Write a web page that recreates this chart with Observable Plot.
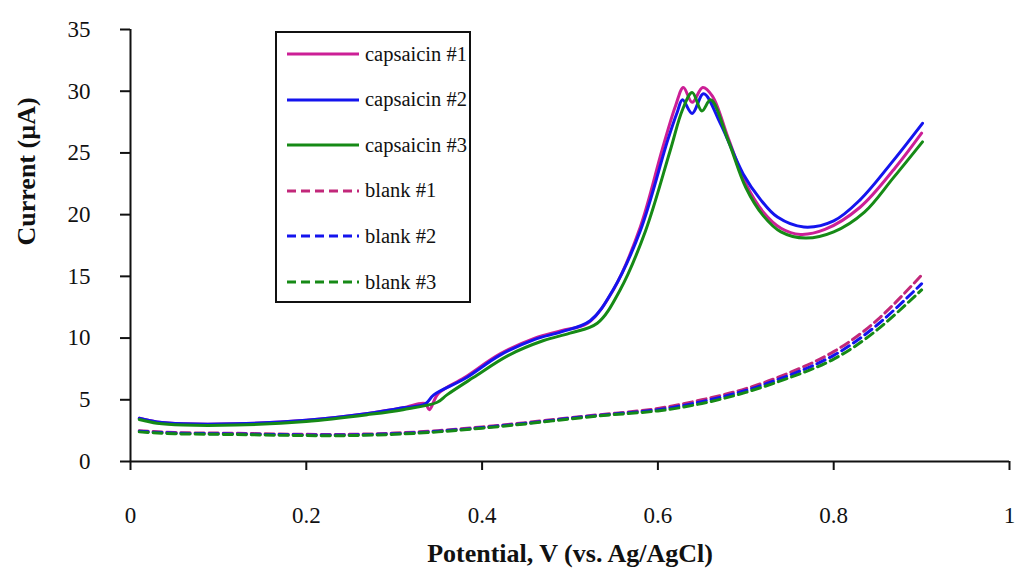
<!DOCTYPE html>
<html>
<head>
<meta charset="utf-8">
<script src="https://cdn.jsdelivr.net/npm/d3@7"></script>
<script src="https://cdn.jsdelivr.net/npm/@observablehq/plot@0.6"></script>
<style>
  body { margin: 0; background: #fff; }
  #wrap { position: relative; width: 1018px; height: 574px; }
  #wrap svg text { font-family: "Liberation Serif", "Times New Roman", Tinos, "DejaVu Serif", serif !important; }
  #legend { position: absolute; left: 275px; top: 31px; width: 192px; height: 268px;
            border: 2px solid #111; background: #fff;
            font-family: "Liberation Serif", "Times New Roman", Tinos, "DejaVu Serif", serif;
            font-size: 20.5px; color: #111; }
  .item { position: absolute; left: 10px; height: 24px; display: flex; align-items: center; }
  .item svg { margin-right: 6px; }
</style>
</head>
<body>
<div id="wrap"></div>
<script>
// ---- data ----
const xTicks = [0, 0.2, 0.4, 0.6, 0.8, 1];
const yTicks = [0, 5, 10, 15, 20, 25, 30, 35];
const xTitle = "Potential, V (vs. Ag/AgCl)";
const yTitle = "Current (µA)";

const seriesNames = ["capsaicin #1", "capsaicin #2", "capsaicin #3", "blank #1", "blank #2", "blank #3"];
const seriesColors = ["#cc1f96", "#1414ee", "#168a16", "#c2287a", "#1414ee", "#168a16"];
const seriesDashed = [false, false, false, true, true, true];

const cap1V = [0.01, 0.03, 0.06, 0.12, 0.2, 0.27, 0.31, 0.335, 0.34, 0.35, 0.38, 0.42, 0.46, 0.49, 0.52, 0.55, 0.58, 0.605, 0.62, 0.629, 0.639, 0.651, 0.662, 0.68, 0.70, 0.72, 0.74, 0.762, 0.79, 0.83, 0.87, 0.90];
const cap1I = [3.5, 3.2, 3.05, 3.05, 3.35, 3.9, 4.35, 4.7, 4.2, 5.5, 6.8, 8.7, 10.0, 10.6, 11.2, 14.0, 19.0, 25.3, 28.8, 30.3, 29.1, 30.3, 29.6, 26.2, 22.5, 20.2, 18.9, 18.4, 18.8, 20.6, 23.8, 26.6];

const cap2V = [0.01, 0.03, 0.06, 0.12, 0.2, 0.27, 0.31, 0.335, 0.345, 0.38, 0.42, 0.46, 0.49, 0.523, 0.549, 0.58, 0.611, 0.622, 0.628, 0.639, 0.652, 0.671, 0.697, 0.717, 0.736, 0.766, 0.80, 0.83, 0.868, 0.901];
const cap2I = [3.5, 3.2, 3.05, 3.05, 3.35, 3.9, 4.35, 4.65, 5.4, 6.7, 8.6, 9.9, 10.5, 11.4, 13.9, 18.7, 26.0, 28.3, 29.3, 28.2, 29.8, 27.4, 23.3, 21.2, 19.8, 19.0, 19.5, 21.2, 24.4, 27.4];

const cap3V = [0.01, 0.03, 0.06, 0.12, 0.2, 0.27, 0.31, 0.349, 0.36, 0.39, 0.43, 0.47, 0.50, 0.531, 0.557, 0.586, 0.614, 0.628, 0.639, 0.650, 0.660, 0.68, 0.70, 0.72, 0.74, 0.768, 0.80, 0.835, 0.868, 0.901];
const cap3I = [3.4, 3.1, 2.95, 2.95, 3.25, 3.8, 4.2, 4.8, 5.4, 6.8, 8.6, 9.8, 10.4, 11.2, 13.9, 18.7, 25.2, 28.5, 29.9, 28.4, 29.3, 26.0, 22.2, 19.9, 18.6, 18.1, 18.6, 20.2, 23.0, 25.9];

const blankV = [0.01, 0.05, 0.1, 0.15, 0.2, 0.25, 0.3, 0.35, 0.4, 0.45, 0.5, 0.55, 0.6, 0.65, 0.7, 0.75, 0.8, 0.85, 0.9];
const blank1I = [2.5, 2.35, 2.3, 2.25, 2.2, 2.2, 2.3, 2.5, 2.8, 3.15, 3.55, 3.9, 4.3, 5.0, 5.9, 7.2, 8.9, 11.5, 15.1];
const blank2I = [2.45, 2.3, 2.25, 2.2, 2.15, 2.15, 2.25, 2.45, 2.75, 3.1, 3.5, 3.85, 4.2, 4.85, 5.75, 7.0, 8.6, 11.1, 14.4];
const blank3I = [2.4, 2.25, 2.2, 2.15, 2.1, 2.1, 2.2, 2.4, 2.7, 3.05, 3.45, 3.8, 4.1, 4.7, 5.6, 6.8, 8.3, 10.7, 13.9];

// ---- build tables ----
const seriesXY = [
  [cap1V, cap1I], [cap2V, cap2I], [cap3V, cap3I],
  [blankV, blank1I], [blankV, blank2I], [blankV, blank3I]
];
const tables = seriesXY.map(([xs, ys], k) => xs.map((v, i) => ({V: v, I: ys[i], s: seriesNames[k]})));

// draw dashed first, then solid magenta, blue, green
const order = [3, 4, 5, 0, 1, 2];
const lineMarks = order.map(k => Plot.line(tables[k], {
  x: "V", y: "I", stroke: seriesColors[k], strokeWidth: 3,
  strokeDasharray: seriesDashed[k] ? "9,5" : null,
  curve: seriesDashed[k] ? "natural" : "catmull-rom"
}));

const FONT = "'Liberation Serif', 'Times New Roman', Tinos, 'DejaVu Serif', serif";
const chart = Plot.plot({
  width: 1018, height: 574,
  marginLeft: 130, marginRight: 9, marginTop: 29, marginBottom: 113,
  x: {domain: [0, 1]},
  y: {domain: [0, 35]},
  style: {fontFamily: FONT, fontSize: "23px", color: "#111", background: "#fff"},
  marks: [
    Plot.axisY({ticks: yTicks, tickSize: 10, tickPadding: 30, strokeWidth: 2, label: null, tickFormat: d => String(d)}),
    Plot.axisX({ticks: xTicks, tickSize: 9, tickPadding: 36, strokeWidth: 2, label: null, tickFormat: d => String(d)}),
    Plot.ruleX([0], {stroke: "#111", strokeWidth: 2}),
    Plot.ruleY([0], {stroke: "#111", strokeWidth: 2}),
    ...lineMarks,
    Plot.text([xTitle], {frameAnchor: "bottom", dy: 100, fontWeight: "bold", fontSize: 26, fill: "#111"}),
    Plot.text([yTitle], {frameAnchor: "left", rotate: -90, dx: -104, fontWeight: "bold", fontSize: 26, fill: "#111"})
  ]
});
const wrap = document.getElementById("wrap");
wrap.appendChild(chart);

// ---- legend ----
const legend = document.createElement("div");
legend.id = "legend";
seriesNames.forEach((name, k) => {
  const item = document.createElement("div");
  item.className = "item";
  item.style.top = (9 + k * 45.6) + "px";
  const ns = "http://www.w3.org/2000/svg";
  const svg = document.createElementNS(ns, "svg");
  svg.setAttribute("width", 72); svg.setAttribute("height", 10);
  const ln = document.createElementNS(ns, "line");
  ln.setAttribute("x1", 0); ln.setAttribute("x2", 72);
  ln.setAttribute("y1", 5); ln.setAttribute("y2", 5);
  ln.setAttribute("stroke", seriesColors[k]); ln.setAttribute("stroke-width", 3);
  if (seriesDashed[k]) ln.setAttribute("stroke-dasharray", "9,5");
  svg.appendChild(ln);
  item.appendChild(svg);
  const span = document.createElement("span");
  span.textContent = name;
  item.appendChild(span);
  legend.appendChild(item);
});
wrap.appendChild(legend);
</script>
</body>
</html>
